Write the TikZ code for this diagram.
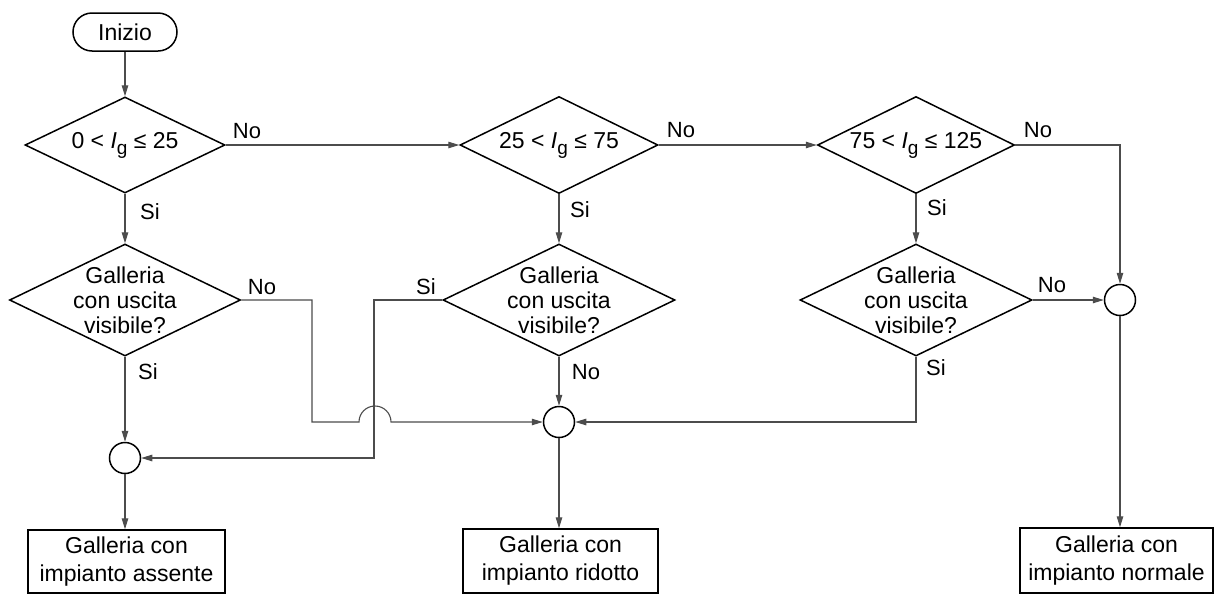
\documentclass[tikz,border=0pt]{standalone}
\usepackage{fontspec}
\setmainfont{Liberation Sans}
\usetikzlibrary{arrows.meta,shapes.geometric}
\tikzset{
  outl/.style={draw=black, line width=1.5pt},
  dia/.style={outl, diamond, inner sep=0pt},
  circ/.style={outl, circle, minimum size=31pt, inner sep=0pt},
  boxn/.style={outl, rectangle, align=center, inner sep=0pt, font=\fontsize{23}{28}\selectfont},
  txt/.style={font=\fontsize{23}{25}\selectfont, align=center, inner sep=0pt},
  lbl/.style={font=\fontsize{22}{25}\selectfont, inner sep=0pt},
  conn/.style={draw=black!70, line width=1.1pt, -{Triangle[length=11pt,width=6.5pt]}},
}
\newcommand{\ineqtxt}[2]{#1 < \textit{I}\raisebox{-6pt}{\fontsize{19}{19}\selectfont g} ≤ #2}
\begin{document}
\begin{tikzpicture}[x=1pt,y=-1pt]
\useasboundingbox (0,0) rectangle (1214,595);
% start
\node[outl, rectangle, rounded corners=19pt, minimum width=104pt, minimum height=38pt, inner sep=0pt, font=\fontsize{23}{25}\selectfont] (start) at (125,32) {Inizio};
% first row diamonds
\node[dia, minimum width=200pt, minimum height=96pt, label={[txt]center:{\ineqtxt{0}{25}}}] (d1) at (125,145) {};
\node[dia, minimum width=198pt, minimum height=97pt, label={[txt]center:{\ineqtxt{25}{75}}}] (d2) at (559,145) {};
\node[dia, minimum width=197pt, minimum height=97pt, label={[txt]center:{\ineqtxt{75}{125}}}] (d3) at (916,145) {};
% second row diamonds
\node[dia, minimum width=231pt, minimum height=112pt, label={[txt]center:{Galleria\\con uscita\\visibile?}}] (d4) at (125,300) {};
\node[dia, minimum width=232pt, minimum height=112pt, label={[txt]center:{Galleria\\con uscita\\visibile?}}] (d5) at (559,300) {};
\node[dia, minimum width=232pt, minimum height=112pt, label={[txt]center:{Galleria\\con uscita\\visibile?}}] (d6) at (916,300) {};
% junction circles
\node[circ] (c1) at (125,458) {};
\node[circ] (c2) at (559,422) {};
\node[circ] (c4) at (1120,300) {};
% result boxes
\node[boxn, minimum width=197pt, minimum height=63pt] (b1) at (126.5,561.5) {Galleria con\\impianto assente};
\node[boxn, minimum width=195pt, minimum height=64pt] (b2) at (560.5,561) {Galleria con\\impianto ridotto};
\node[boxn, minimum width=193pt, minimum height=65pt] (b3) at (1116.5,560.5) {Galleria con\\impianto normale};
% labels
\node[lbl] (l1) at (247,131) {No};
\node[lbl] (l2) at (150,212) {Si};
\node[lbl] (l3) at (681,130) {No};
\node[lbl] (l4) at (580,210) {Si};
\node[lbl] (l5) at (1038,130) {No};
\node[lbl] (l6) at (937,208) {Si};
\node[lbl] (l7) at (262,287) {No};
\node[lbl] (l8) at (148,372) {Si};
\node[lbl] (l9) at (426,287) {Si};
\node[lbl] (l10) at (586,372) {No};
\node[lbl] (l11) at (1052,285) {No};
\node[lbl] (l12) at (936,368) {Si};
% helper coordinates
\coordinate (j1) at (312,300);
\coordinate (j2) at (359,422);
\coordinate (j3) at (374,300);
% connectors
\draw[conn] (start) -- (d1);
\draw[conn] (d1) -- (d4);
\draw[conn] (d4) -- (c1);
\draw[conn] (c1.south) -- (c1.south |- b1.north);
\draw[conn] (d1.east) -- (d2.west);
\draw[conn] (d2.east) -- (d3.west);
\draw[conn] (d2) -- (d5);
\draw[conn] (d5) -- (c2);
\draw[conn] (c2.south) -- (c2.south |- b2.north);
\draw[conn] (d3) -- (d6);
\draw[conn] (d3.east) -| (c4.north);
\draw[conn] (d6.east) -- (c4.west);
\draw[conn] (c4.south) -- (c4.south |- b3.north);
\draw[conn] (d6.south) |- (c2.east);
\draw[conn] (d5.west) -- (j3) |- (c1.east);
\draw[conn] (d4.east) -- (j1) |- (j2) arc[start angle=180, end angle=0, radius=16pt] -- (c2.west);
\end{tikzpicture}
\end{document}
